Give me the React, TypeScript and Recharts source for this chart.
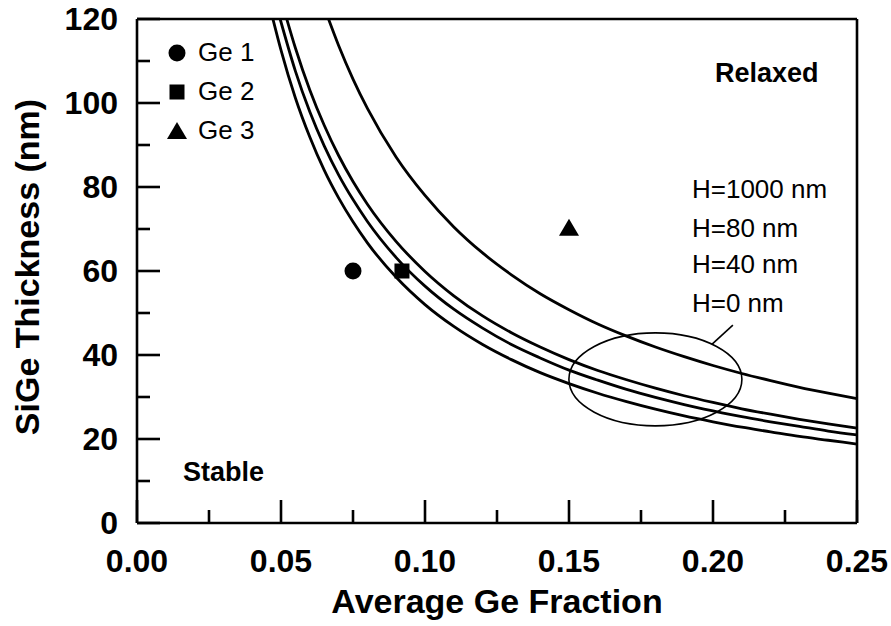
import {
  ComposedChart,
  Line,
  Scatter,
  XAxis,
  YAxis,
  Legend,
  Label,
  ReferenceDot,
  ReferenceLine,
} from 'recharts'

const FONT = '"Liberation Sans", Arial, Helvetica, sans-serif'
const INK = '#000'

// x ticks every 0.025, labels on every 0.05
const X_TICKS = [0, 0.025, 0.05, 0.075, 0.1, 0.125, 0.15, 0.175, 0.2, 0.225, 0.25]
const Y_TICKS = [0, 10, 20, 30, 40, 50, 60, 70, 80, 90, 100, 110, 120]

// critical thickness curves: [Ge fraction, thickness nm]
const H0: [number, number][] = [
  [0.0472, 120], [0.05, 112.6], [0.055, 101.2], [0.06, 91.9], [0.065, 84.0], [0.07, 77.4],
  [0.075, 71.7], [0.08, 66.7], [0.09, 58.5], [0.1, 52.0], [0.11, 46.8], [0.12, 42.5],
  [0.13, 38.9], [0.14, 35.8], [0.15, 33.2], [0.16, 30.9], [0.17, 28.9], [0.18, 27.1],
  [0.19, 25.5], [0.2, 24.1], [0.21, 22.8], [0.22, 21.7], [0.23, 20.6], [0.24, 19.7], [0.25, 18.8],
]
const H40: [number, number][] = [
  [0.0497, 120], [0.055, 107.6], [0.06, 97.9], [0.065, 89.8], [0.07, 82.9], [0.075, 77.0],
  [0.08, 71.8], [0.09, 63.2], [0.1, 56.4], [0.11, 50.9], [0.12, 46.4], [0.13, 42.5],
  [0.14, 39.3], [0.15, 36.4], [0.16, 34.0], [0.17, 31.8], [0.18, 29.9], [0.19, 28.2],
  [0.2, 26.7], [0.21, 25.3], [0.22, 24.1], [0.23, 23.0], [0.24, 21.9], [0.25, 21.0],
]
const H80: [number, number][] = [
  [0.052, 120], [0.055, 113.1], [0.06, 103.1], [0.065, 94.7], [0.07, 87.5], [0.075, 81.3],
  [0.08, 75.9], [0.09, 67.0], [0.1, 59.9], [0.11, 54.1], [0.12, 49.3], [0.13, 45.3],
  [0.14, 41.9], [0.15, 38.9], [0.16, 36.3], [0.17, 34.1], [0.18, 32.1], [0.19, 30.3],
  [0.2, 28.7], [0.21, 27.2], [0.22, 25.9], [0.23, 24.7], [0.24, 23.6], [0.25, 22.6],
]
const H1000: [number, number][] = [
  [0.0665, 120], [0.07, 113.7], [0.075, 105.7], [0.08, 98.7], [0.09, 87.1], [0.1, 78.0],
  [0.11, 70.5], [0.12, 64.3], [0.13, 59.1], [0.14, 54.6], [0.15, 50.8], [0.16, 47.4],
  [0.17, 44.5], [0.18, 41.9], [0.19, 39.6], [0.2, 37.5], [0.21, 35.6], [0.22, 33.9],
  [0.23, 32.3], [0.24, 30.9], [0.25, 29.6],
]

// measured samples
const GE1: [number, number][] = [[0.075, 60]]
const GE2: [number, number][] = [[0.092, 60]]
const GE3: [number, number][] = [[0.15, 70.3]]

const toPts = (arr: [number, number][]) => arr.map(([x, y]) => ({ x, y }))

const isMajorX = (v: number) => Math.round(v * 1000) % 50 === 0
const isMajorY = (v: number) => v % 20 === 0

const tickText = {
  fontFamily: FONT,
  fontSize: 32,
  fontWeight: 700,
  fill: INK,
}

function BottomTick({ x, y, payload }: any) {
  const major = isMajorX(payload.value)
  return (
    <g>
      <line x1={x} x2={x} y1={y} y2={y - (major ? 23 : 13)} stroke={INK} strokeWidth={2.6} />
      {major && (
        <text x={x} y={y + 49} textAnchor="middle" {...tickText}>
          {payload.value.toFixed(2)}
        </text>
      )}
    </g>
  )
}

function TopTick({ x, y, payload }: any) {
  const major = isMajorX(payload.value)
  return <line x1={x} x2={x} y1={y} y2={y + (major ? 23 : 13)} stroke={INK} strokeWidth={2.6} />
}

function LeftTick({ x, y, payload }: any) {
  const major = isMajorY(payload.value)
  return (
    <g>
      <line x1={x} x2={x + (major ? 23 : 13)} y1={y} y2={y} stroke={INK} strokeWidth={2.6} />
      {major && (
        <text x={x - 19} y={y + 11} textAnchor="end" {...tickText}>
          {payload.value}
        </text>
      )}
    </g>
  )
}

function RightTick({ x, y, payload }: any) {
  const major = isMajorY(payload.value)
  return <line x1={x} x2={x - (major ? 23 : 13)} y1={y} y2={y} stroke={INK} strokeWidth={2.6} />
}

const Dot = ({ cx, cy }: any) => <circle cx={cx} cy={cy} r={8.5} fill={INK} />
const Sq = ({ cx, cy }: any) => <rect x={cx - 7.5} y={cy - 7.5} width={15} height={15} fill={INK} />
const Tri = ({ cx, cy }: any) => (
  <polygon points={`${cx},${cy - 9} ${cx - 10},${cy + 8} ${cx + 10},${cy + 8}`} fill={INK} />
)

const MARKERS: Record<string, (p: { cx: number; cy: number }) => JSX.Element> = {
  'Ge 1': Dot,
  'Ge 2': Sq,
  'Ge 3': Tri,
}

function LegendBox({ payload }: any) {
  const items = (payload || []).filter((p: any) => MARKERS[p.value])
  return (
    <div style={{ fontFamily: FONT, fontSize: 26, color: INK }}>
      {items.map((p: any) => {
        const M = MARKERS[p.value]
        return (
          <div key={p.value} style={{ display: 'flex', alignItems: 'center', height: 39 }}>
            <svg width={24} height={24} style={{ marginRight: 9 }}>
              <M cx={12} cy={12} />
            </svg>
            <span>{p.value}</span>
          </div>
        )
      })}
    </div>
  )
}

const note = (txt: string, size: number, bold: boolean) => (p: any) => (
  <text
    x={p.cx}
    y={p.cy}
    fontFamily={FONT}
    fontSize={size}
    fontWeight={bold ? 700 : 400}
    fill={INK}
  >
    {txt}
  </text>
)

export default function App() {
  return (
    <div style={{ position: 'absolute', left: 0, top: 0, width: 891, height: 626, background: '#fff' }}>
      <ComposedChart width={891} height={626} margin={{ top: 18, right: 33, left: 0, bottom: 0 }}>
        <XAxis
          dataKey="x"
          type="number"
          domain={[0, 0.25]}
          ticks={X_TICKS}
          interval={0}
          height={103}
          tickSize={0}
          tickMargin={0}
          tickLine={false}
          axisLine={{ stroke: INK, strokeWidth: 2.6 }}
          tick={<BottomTick />}
        >
          <Label
            content={({ viewBox }: any) => (
              <text
                x={viewBox.x + viewBox.width / 2}
                y={viewBox.y + 90}
                textAnchor="middle"
                fontFamily={FONT}
                fontSize={34}
                fontWeight={700}
                fill={INK}
              >
                Average Ge Fraction
              </text>
            )}
          />
        </XAxis>
        {/* top and right axes close the frame, ticks only */}
        <XAxis
          xAxisId="top"
          orientation="top"
          dataKey="x"
          type="number"
          domain={[0, 0.25]}
          ticks={X_TICKS}
          interval={0}
          height={1}
          tickSize={0}
          tickMargin={0}
          tickLine={false}
          axisLine={{ stroke: INK, strokeWidth: 2.6 }}
          tick={<TopTick />}
        />
        <YAxis
          type="number"
          domain={[0, 120]}
          ticks={Y_TICKS}
          interval={0}
          width={137}
          tickSize={0}
          tickMargin={0}
          tickLine={false}
          axisLine={{ stroke: INK, strokeWidth: 2.6 }}
          tick={<LeftTick />}
        >
          <Label
            content={({ viewBox }: any) => {
              const cy = viewBox.y + viewBox.height / 2 - 4
              return (
                <text
                  x={39}
                  y={cy}
                  transform={`rotate(-90, 39, ${cy})`}
                  textAnchor="middle"
                  fontFamily={FONT}
                  fontSize={34}
                  fontWeight={700}
                  fill={INK}
                >
                  SiGe Thickness (nm)
                </text>
              )
            }}
          />
        </YAxis>
        <YAxis
          yAxisId="right"
          orientation="right"
          type="number"
          domain={[0, 120]}
          ticks={Y_TICKS}
          interval={0}
          width={1}
          tickSize={0}
          tickMargin={0}
          tickLine={false}
          axisLine={{ stroke: INK, strokeWidth: 2.6 }}
          tick={<RightTick />}
        />

        {[H1000, H80, H40, H0].map((arr, i) => (
          <Line
            key={i}
            data={toPts(arr)}
            dataKey="y"
            type="monotone"
            stroke={INK}
            strokeWidth={2.8}
            dot={false}
            activeDot={false}
            legendType="none"
            isAnimationActive={false}
          />
        ))}

        <Scatter name="Ge 1" data={toPts(GE1)} dataKey="y" shape={<Dot />} isAnimationActive={false} />
        <Scatter name="Ge 2" data={toPts(GE2)} dataKey="y" shape={<Sq />} isAnimationActive={false} />
        <Scatter name="Ge 3" data={toPts(GE3)} dataKey="y" shape={<Tri />} isAnimationActive={false} />

        {/* ellipse grouping the curves, with its leader line */}
        <ReferenceDot
          x={0.18}
          y={34.2}
          r={0}
          shape={(p: any) => (
            <ellipse cx={p.cx} cy={p.cy} rx={86.5} ry={46.5} fill="none" stroke={INK} strokeWidth={1.6} />
          )}
        />
        <ReferenceLine
          segment={[
            { x: 0.1997, y: 42.6 },
            { x: 0.2069, y: 47.1 },
          ]}
          stroke={INK}
          strokeWidth={1.6}
        />

        <ReferenceDot x={0.2007} y={105} r={0} shape={note('Relaxed', 27, true)} />
        <ReferenceDot x={0.016} y={10} r={0} shape={note('Stable', 27, true)} />
        <ReferenceDot x={0.1927} y={77.4} r={0} shape={note('H=1000 nm', 26, false)} />
        <ReferenceDot x={0.1927} y={68.1} r={0} shape={note('H=80 nm', 26, false)} />
        <ReferenceDot x={0.1927} y={59.5} r={0} shape={note('H=40 nm', 26, false)} />
        <ReferenceDot x={0.1927} y={50.2} r={0} shape={note('H=0 nm', 26, false)} />

        <Legend
          layout="vertical"
          align="center"
          verticalAlign="middle"
          wrapperStyle={{ left: 165, top: 33, width: 'auto' }}
          content={<LegendBox />}
        />
      </ComposedChart>
    </div>
  )
}
